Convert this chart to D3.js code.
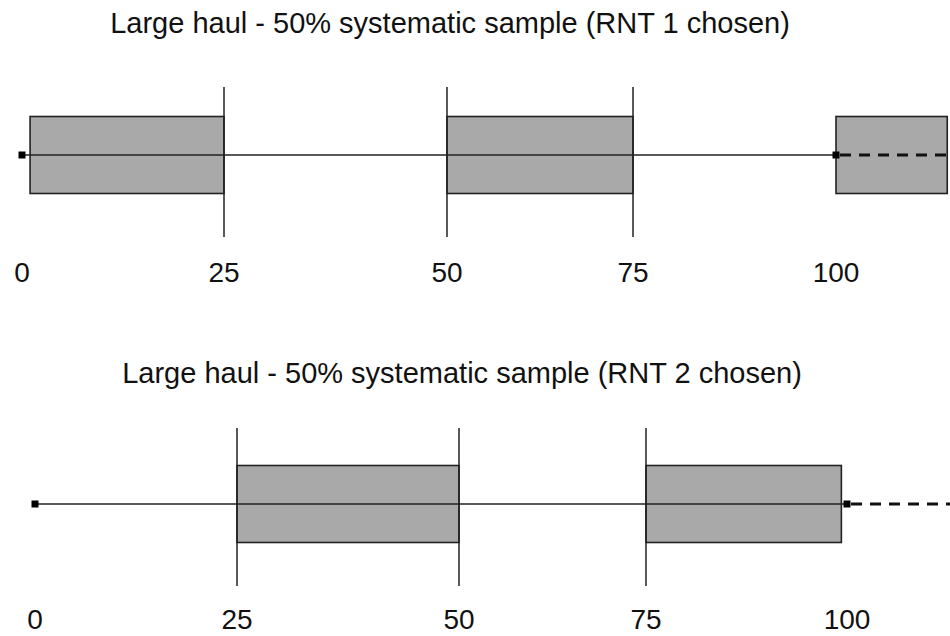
<!DOCTYPE html>
<html>
<head>
<meta charset="utf-8">
<script src="https://cdn.jsdelivr.net/npm/d3@7"></script>
<style>
  body { margin: 0; background: #fff; }
  text { font-family: "Liberation Sans", Arial, sans-serif; fill: #111; }
</style>
</head>
<body>
<svg id="chart"></svg>
<script>
// tick labels along each haul
const tickValues = [0, 25, 50, 75, 100];
const boundaries = [25, 50, 75];

// panel 1: RNT 1 chosen
const title1 = "Large haul - 50% systematic sample (RNT 1 chosen)";
const boxes1 = [[1, 25], [50, 75], [100, 113.7]];
const haulEnd1 = 114;

// panel 2: RNT 2 chosen
const title2 = "Large haul - 50% systematic sample (RNT 2 chosen)";
const boxes2 = [[25, 50], [75, 99.3]];
const haulEnd2 = 114;

const width = 950, height = 636;

const svg = d3.select("#chart")
    .attr("width", width)
    .attr("height", height);

const panels = [
    {
        title: title1, boxes: boxes1, end: haulEnd1,
        range: [22, 224, 447, 633, 836],
        titleX: 450, titleY: 33, lineY: 155, boxH: 77,
        vTop: 87, vBottom: 237, labelY: 282
    },
    {
        title: title2, boxes: boxes2, end: haulEnd2,
        range: [35, 237, 459, 646, 847],
        titleX: 462, titleY: 383, lineY: 504, boxH: 77,
        vTop: 428, vBottom: 586, labelY: 629
    }
];

panels.forEach(p => {
    const g = svg.append("g");
    const x = d3.scaleLinear().domain(tickValues).range(p.range);

    g.append("text")
        .attr("x", p.titleX)
        .attr("y", p.titleY)
        .attr("text-anchor", "middle")
        .style("font-size", "29px")
        .text(p.title);

    // sampled sections
    g.selectAll("rect.box")
        .data(p.boxes)
        .join("rect")
        .attr("class", "box")
        .attr("x", d => x(d[0]))
        .attr("width", d => x(d[1]) - x(d[0]))
        .attr("y", p.lineY - p.boxH / 2)
        .attr("height", p.boxH)
        .attr("fill", "#a9a9a9")
        .attr("stroke", "#222")
        .attr("stroke-width", 1.6);

    // haul line (solid up to 100, dashed beyond)
    g.append("line")
        .attr("x1", x(0)).attr("x2", x(100))
        .attr("y1", p.lineY).attr("y2", p.lineY)
        .attr("stroke", "#222")
        .attr("stroke-width", 1.5);

    g.append("line")
        .attr("x1", x(100) + 4).attr("x2", x(p.end))
        .attr("y1", p.lineY).attr("y2", p.lineY)
        .attr("stroke", "#111")
        .attr("stroke-width", 3)
        .attr("stroke-dasharray", "11,8");

    // start / end markers
    g.selectAll("rect.marker")
        .data([0, 100])
        .join("rect")
        .attr("class", "marker")
        .attr("x", d => x(d) - 3.5)
        .attr("y", p.lineY - 3.5)
        .attr("width", 7)
        .attr("height", 7)
        .attr("fill", "#000");

    // boundary lines
    g.selectAll("line.bound")
        .data(boundaries)
        .join("line")
        .attr("class", "bound")
        .attr("x1", d => x(d)).attr("x2", d => x(d))
        .attr("y1", p.vTop).attr("y2", p.vBottom)
        .attr("stroke", "#222")
        .attr("stroke-width", 1.5);

    g.selectAll("text.tick")
        .data(tickValues)
        .join("text")
        .attr("class", "tick")
        .attr("x", d => x(d))
        .attr("y", p.labelY)
        .attr("text-anchor", "middle")
        .style("font-size", "28px")
        .text(d => d);
});
</script>
</body>
</html>
